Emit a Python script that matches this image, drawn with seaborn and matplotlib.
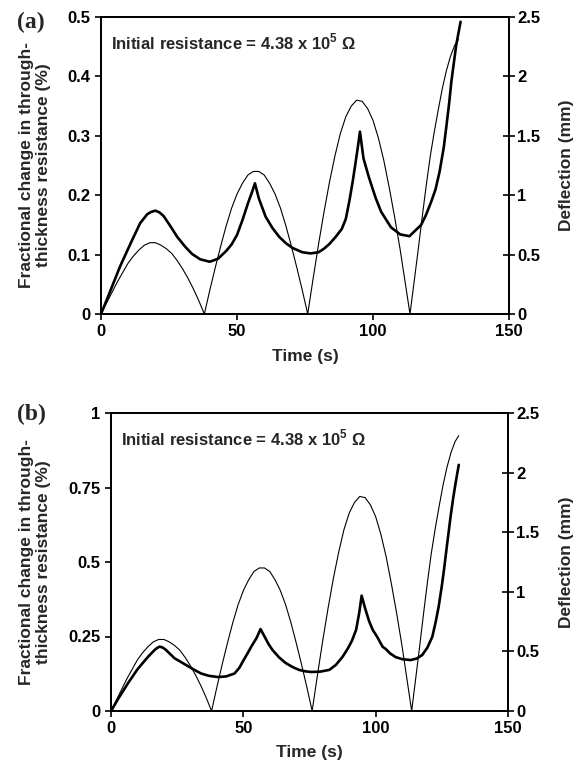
import numpy as np
import pandas as pd
import matplotlib
matplotlib.use("Agg")
import matplotlib.pyplot as plt
from matplotlib.ticker import FuncFormatter
import seaborn as sns

# ---------------- data ----------------
# Deflection (mm), same loading programme in both panels
defl_time = [0, 2, 4, 6, 8, 10, 12, 14, 16, 18, 20, 22, 24, 26, 28, 30, 32, 34, 36, 38,
             40, 42, 44, 46, 48, 50, 52, 54, 56, 58, 60, 62, 64, 66, 68, 70, 72, 74, 76,
             78, 80, 82, 84, 86, 88, 90, 92, 94, 96, 98, 100, 102, 104, 106, 108, 110, 112, 113.6,
             115, 116.5, 118, 119.5, 121, 122.5, 124, 125.5, 127, 128.5, 130, 131.4]
defl_mm = [0, 0.09, 0.18, 0.27, 0.35, 0.43, 0.49, 0.54, 0.58, 0.60, 0.60, 0.58, 0.55, 0.51,
           0.45, 0.38, 0.30, 0.21, 0.11, 0.0,
           0.20, 0.39, 0.57, 0.74, 0.89, 1.01, 1.10, 1.17, 1.20, 1.20, 1.17, 1.10, 1.01,
           0.89, 0.74, 0.57, 0.39, 0.20, 0.0,
           0.30, 0.59, 0.86, 1.11, 1.33, 1.52, 1.66, 1.75, 1.80, 1.79, 1.73, 1.63, 1.48,
           1.29, 1.06, 0.81, 0.54, 0.24, 0.0,
           0.25, 0.52, 0.80, 1.07, 1.32, 1.53, 1.72, 1.90, 2.05, 2.17, 2.26, 2.31]

# Panel (a): fractional change in through-thickness resistance (%)
res_a_time = [0, 3, 7, 11, 14.4, 17, 18.5, 20, 21.5, 23, 25.5, 28, 31, 33.5, 36.5, 40, 43, 46, 48,
              50, 52, 54, 55.5, 56.6, 58, 60.5, 63, 65.5, 68, 70.5, 74, 77, 80, 82, 84,
              86.3, 88.5, 90, 91.3, 92.5, 93.5, 94.4, 95.2, 96.5, 98.5, 101, 103, 106.6,
              110, 113.4, 117.7, 119.5, 121.4, 123, 124.5, 126, 126.9, 128, 128.8, 130.6, 132.2]
res_a = [0, 0.034, 0.080, 0.120, 0.153, 0.168, 0.172, 0.174, 0.171, 0.165, 0.148, 0.130, 0.113,
         0.101, 0.092, 0.088, 0.093, 0.106, 0.117, 0.133, 0.158, 0.186, 0.205, 0.220, 0.195,
         0.164, 0.145, 0.130, 0.119, 0.111, 0.104, 0.102, 0.104, 0.110, 0.118, 0.130, 0.143,
         0.160, 0.190, 0.222, 0.252, 0.280, 0.307, 0.262, 0.230, 0.195, 0.172, 0.146, 0.134,
         0.131, 0.150, 0.167, 0.189, 0.210, 0.240, 0.280, 0.313, 0.355, 0.391, 0.453, 0.492]

# Panel (b)
res_b_time = [0, 3, 6.4, 10, 14, 16.5, 17.5, 18.4, 19.5, 20.5, 22.5, 24, 26.5, 29, 31.5, 34, 37,
              40.4, 43.5, 46.7, 48.5, 49.8, 51.5, 53, 55, 56.5, 58, 59.5, 61, 63.5, 66, 68.5,
              71, 73.5, 75.5, 79, 82.5, 85, 87.5, 89.5, 91, 92.6, 93.8, 94.7, 96, 97.5, 98.9,
              100.5, 102.6, 103.8, 105.5, 107.5, 110, 113.2, 115.5, 117.6, 119.5, 121.4,
              122.7, 123.8, 125, 125.8, 127, 128.3, 129.3, 130.2, 131.4]
res_b = [0, 0.045, 0.093, 0.140, 0.182, 0.205, 0.212, 0.216, 0.213, 0.207, 0.190, 0.177,
         0.164, 0.151, 0.138, 0.126, 0.118, 0.114, 0.116, 0.126, 0.145, 0.166, 0.192, 0.216,
         0.245, 0.275, 0.250, 0.225, 0.205, 0.180, 0.161, 0.148, 0.138, 0.133, 0.131, 0.132,
         0.138, 0.155, 0.182, 0.210, 0.235, 0.272, 0.330, 0.387, 0.345, 0.302, 0.272, 0.250,
         0.216, 0.208, 0.193, 0.181, 0.174, 0.171, 0.176, 0.188, 0.212, 0.249, 0.300, 0.350,
         0.420, 0.473, 0.560, 0.652, 0.715, 0.765, 0.826]

x_ticks = [0, 50, 100, 150]
left_ticks_a = [0, 0.1, 0.2, 0.3, 0.4, 0.5]
left_ticks_b = [0, 0.25, 0.5, 0.75, 1]
right_ticks = [0, 0.5, 1, 1.5, 2, 2.5]

panel_labels = ["(a)", "(b)"]
annotation = r"Initial resistance = 4.38 x 10$^{\mathbf{5}}$ Ω"
xlabel = "Time (s)"
ylabel_left = "Fractional change in through-\nthickness resistance (%)"
ylabel_right = "Deflection (mm)"

# ---------------- style ----------------
sns.set_style("ticks")
plt.rcParams["font.family"] = ["Liberation Sans", "DejaVu Sans"]
plt.rcParams["font.weight"] = "bold"
plt.rcParams["mathtext.fontset"] = "custom"
plt.rcParams["mathtext.rm"] = "Liberation Sans"
plt.rcParams["mathtext.bf"] = "Liberation Sans:bold"

fig = plt.figure(figsize=(5.83, 7.72), dpi=100)

W, H = 583.0, 772.0
# (left, bottom-y, right, top-y) in pixels
px_boxes = [(101, 314, 509, 17), (111, 711, 508, 413)]
panel_label_y = [22, 414]
xlabel_y = [357, 752]

panels = [
    (res_a_time, res_a, left_ticks_a, 0.5),
    (res_b_time, res_b, left_ticks_b, 1.0),
]

def fmt(v, pos):
    return "%g" % v

for i, ((l, b, r, t), (rt, rv, lticks, ymax)) in enumerate(zip(px_boxes, panels)):
    ax = fig.add_axes((l / W, 1 - b / H, (r - l) / W, (b - t) / H))
    ax2 = ax.twinx()
    aw, ah = r - l, b - t

    df_r = pd.DataFrame({"t": rt, "r": rv})
    df_d = pd.DataFrame({"t": defl_time, "d": defl_mm})
    sns.lineplot(data=df_r, x="t", y="r", ax=ax, color="black", lw=1.9, sort=False)
    sns.lineplot(data=df_d, x="t", y="d", ax=ax2, color="black", lw=0.8, sort=False)

    ax.set_xlim(0, 150)
    ax.set_ylim(0, ymax)
    ax2.set_ylim(0, 2.5)
    ax.set_xticks(x_ticks)
    ax.set_yticks(lticks)
    ax2.set_yticks(right_ticks)
    ax.yaxis.set_major_formatter(FuncFormatter(fmt))
    ax2.yaxis.set_major_formatter(FuncFormatter(fmt))

    for a in (ax, ax2):
        for s in a.spines.values():
            s.set_linewidth(1.3)
            s.set_color("black")
            s.set_visible(True)
    ax.tick_params(axis="both", direction="out", length=4.5, width=1.2,
                   labelsize=12, colors="black", pad=3)
    ax.tick_params(axis="y", right=False)
    ax2.tick_params(axis="y", direction="inout", length=9, width=1.2,
                    labelsize=12, colors="black", pad=1.5)
    for lab in ax.get_xticklabels() + ax.get_yticklabels() + ax2.get_yticklabels():
        lab.set_fontweight("bold")

    ax.set_xlabel(xlabel, fontsize=12.5, fontweight="bold")
    ax.xaxis.set_label_coords(0.5, -(xlabel_y[i] - b) / ah)
    ax.xaxis.label.set_verticalalignment("center")

    ax.set_ylabel(ylabel_left, fontsize=12.5, fontweight="bold", linespacing=1.15)
    ax.yaxis.set_label_coords((35 - l) / aw, 0.5)
    ax.yaxis.label.set_verticalalignment("center")

    ax2.set_ylabel(ylabel_right, fontsize=12.5, fontweight="bold")
    ax2.yaxis.set_label_coords((566 - l) / aw, 0.5)
    ax2.yaxis.label.set_verticalalignment("center")

    ax.text(10 / aw, 1 - 25 / ah, annotation, transform=ax.transAxes, fontsize=12,
            fontweight="bold", ha="left", va="center")

    fig.text(17 / W, 1 - panel_label_y[i] / H, panel_labels[i],
             fontsize=17, fontweight="bold", family=["Liberation Serif", "DejaVu Serif"],
             ha="left", va="center")

fig.savefig("out.png", dpi=100)
